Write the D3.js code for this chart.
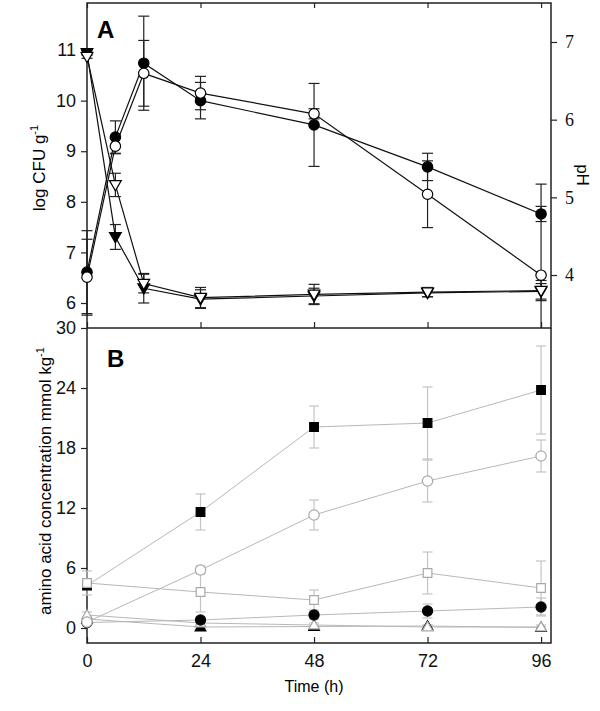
<!DOCTYPE html>
<html><head><meta charset="utf-8">
<script src="https://cdn.jsdelivr.net/npm/d3@7"></script>
<style>body{margin:0;background:#fff}svg{display:block}</style>
</head><body>
<svg id="c" width="600" height="711"></svg>
<script>
// ---------- DATA ----------
const timeA = [0, 6, 12, 24, 48, 72, 96];
const cfuFilled    = [6.61, 9.28, 10.74, 10.00, 9.52, 8.69, 7.76];
const cfuFilledErr = [0.82, 0.32, 0.93, 0.36, 0.82, 0.27, 0.15];
const cfuOpen      = [6.51, 9.10, 10.54, 10.15, 9.74, 8.15, 6.55];
const cfuOpenErr   = [0.75, 0.15, 0.65, 0.33, 0.10, 0.66, 1.80];
const pHFilled     = [6.86, 4.49, 3.83, 3.69, 3.73, 3.77, 3.79];
const pHFilledErr  = [0.02, 0.16, 0.19, 0.12, 0.10, 0.05, 0.10];
const pHOpen       = [6.81, 5.16, 3.89, 3.71, 3.75, 3.78, 3.80];
const pHOpenErr    = [0.02, 0.15, 0.12, 0.13, 0.13, 0.06, 0.13];

const timeB = [0, 24, 48, 72, 96];
const sqFilled      = [4.25, 11.6, 20.1, 20.5, 23.8];
const sqFilledErr   = [0.4, 1.8, 2.1, 3.6, 4.4];
const circOpenB     = [0.6, 5.8, 11.3, 14.7, 17.2];
const circOpenBErr  = [0.3, 0.4, 1.5, 2.1, 1.6];
const sqOpen        = [4.5, 3.6, 2.8, 5.5, 4.0];
const sqOpenErr     = [1.2, 2.0, 1.0, 2.1, 2.7];
const circFilledB   = [0.55, 0.8, 1.3, 1.7, 2.1];
const circFilledBErr= [0.3, 0.3, 0.4, 0.7, 0.9];
const triOpenB      = [1.3, 0.5, 0.3, 0.1, 0.1];
const triOpenBErr   = [0.3, 0.2, 0.2, 0.2, 0.2];
const triFilledB    = [0.9, 0.1, 0.15, 0.2, 0.05];
const triFilledBErr = [0.2, 0.1, 0.1, 0.1, 0.1];

const xTicks = [0, 24, 48, 72, 96];
const cfuTicks = [6, 7, 8, 9, 10, 11];
const pHTicks = [4, 5, 6, 7];
const aaTicks = [0, 6, 12, 18, 24, 30];

// ---------- LAYOUT ----------
const L = 87, R = 551, TA = 3, BA = 328, TB = 328, BB = 643;
const svg = d3.select("#c");
const sans = "'Liberation Sans', Arial, sans-serif";
const serif = "'Liberation Serif', 'Times New Roman', serif";

const x = d3.scaleLinear().domain([0, 98.1]).range([L, R]);
const yA = d3.scaleLinear().domain([5.506, 11.93]).range([BA, TA]);
const yPH = d3.scaleLinear().domain([3.318, 7.502]).range([BA, TA]);
const yB = d3.scaleLinear().domain([-1.5, 30]).range([BB, TB]);

const defs = svg.append("defs");
defs.append("clipPath").attr("id", "clipA").append("rect")
  .attr("x", L - 10).attr("y", TA).attr("width", R - L + 20).attr("height", BA - TA);
defs.append("clipPath").attr("id", "clipB").append("rect")
  .attr("x", L - 10).attr("y", TB).attr("width", R - L + 20).attr("height", BB - TB);

const axisCol = "#222";

// ---------- AXES ----------
function styleAxis(g, font, size) {
  g.select(".domain").remove();
  g.selectAll(".tick line").attr("stroke", axisCol).attr("stroke-width", 1.2);
  g.selectAll(".tick text").attr("font-family", font).attr("font-size", size).attr("fill", "#111");
}
svg.append("g").attr("transform", `translate(${L},0)`)
  .call(d3.axisLeft(yA).tickValues(cfuTicks).tickFormat(d3.format("d")).tickSize(6).tickPadding(5))
  .call(g => styleAxis(g, sans, 18));
svg.append("g").attr("transform", `translate(${R},0)`)
  .call(d3.axisRight(yPH).tickValues(pHTicks).tickFormat(d3.format("d")).tickSize(6).tickPadding(8))
  .call(g => styleAxis(g, serif, 18));
svg.append("g").attr("transform", `translate(0,${BA})`)
  .call(d3.axisTop(x).tickValues(xTicks).tickFormat("").tickSize(6))
  .call(g => styleAxis(g, sans, 0));
svg.append("g").attr("transform", `translate(0,${TA})`)
  .call(d3.axisBottom(x).tickValues(xTicks).tickFormat("").tickSize(5))
  .call(g => styleAxis(g, sans, 0));
svg.append("g").attr("transform", `translate(${L},0)`)
  .call(d3.axisLeft(yB).tickValues(aaTicks).tickFormat(d3.format("d")).tickSize(6).tickPadding(5))
  .call(g => styleAxis(g, sans, 18));
svg.append("g").attr("transform", `translate(0,${BB})`)
  .call(d3.axisTop(x).tickValues(xTicks).tickFormat("").tickSize(6))
  .call(g => styleAxis(g, sans, 0));
svg.append("g").attr("transform", `translate(0,${BB})`)
  .call(d3.axisBottom(x).tickValues(xTicks).tickFormat(d3.format("d")).tickSize(0).tickPadding(11))
  .call(g => styleAxis(g, sans, 18));

// Frames
svg.append("rect").attr("x", L).attr("y", TA).attr("width", R - L).attr("height", BA - TA)
  .attr("fill", "none").attr("stroke", axisCol).attr("stroke-width", 1.5);
svg.append("path").attr("d", `M${L},${TB}V${BB}H${R}V${TB}`)
  .attr("fill", "none").attr("stroke", axisCol).attr("stroke-width", 1.5);

// ---------- MARKERS ----------
const triDown = d3.symbol().type({draw(ctx, size){const s=Math.sqrt(size); ctx.moveTo(-s*0.62,-s*0.45); ctx.lineTo(s*0.62,-s*0.45); ctx.lineTo(0,s*0.62); ctx.closePath();}});
const triUp = d3.symbol().type({draw(ctx, size){const s=Math.sqrt(size); ctx.moveTo(-s*0.62,s*0.45); ctx.lineTo(s*0.62,s*0.45); ctx.lineTo(0,-s*0.62); ctx.closePath();}});
const sq = d3.symbol().type(d3.symbolSquare);
const circ = d3.symbol().type(d3.symbolCircle);

function series(g, xs, ys, errs, yScale, o) {
  const pts = xs.map((t, i) => ({t, v: ys[i], e: errs[i]}));
  const eb = g.append("g").attr("stroke", o.errCol).attr("stroke-width", o.errW || 1.2);
  pts.forEach(p => {
    const x0 = x(p.t), y1 = yScale(p.v + p.e), y2 = yScale(p.v - p.e);
    eb.append("line").attr("x1", x0).attr("x2", x0).attr("y1", y1).attr("y2", y2);
    eb.append("line").attr("x1", x0 - o.cap).attr("x2", x0 + o.cap).attr("y1", y1).attr("y2", y1);
    eb.append("line").attr("x1", x0 - o.cap).attr("x2", x0 + o.cap).attr("y1", y2).attr("y2", y2);
  });
  return pts;
}
function drawLine(g, pts, yScale, o) {
  g.append("path").datum(pts)
    .attr("d", d3.line().x(p => x(p.t)).y(p => yScale(p.v)))
    .attr("fill", "none").attr("stroke", o.lineCol).attr("stroke-width", o.lineW || 1);
}
function drawMarks(g, pts, yScale, o) {
  g.selectAll(null).data(pts).join("path")
    .attr("transform", p => `translate(${x(p.t)},${yScale(p.v)})`)
    .attr("d", o.sym.size(o.size)())
    .attr("fill", o.fill).attr("stroke", o.stroke).attr("stroke-width", o.sw || 1.2);
}

// ---------- PANEL A ----------
const gA = svg.append("g").attr("clip-path", "url(#clipA)");
const aOpt = {errCol: "#222", cap: 5.5, lineCol: "#111", lineW: 1.2};
const A = [
  {ys: pHFilled, es: pHFilledErr, sc: yPH, sym: triDown, size: 90, fill: "#000", stroke: "#000"},
  {ys: pHOpen, es: pHOpenErr, sc: yPH, sym: triDown, size: 90, fill: "#fff", stroke: "#000"},
  {ys: cfuFilled, es: cfuFilledErr, sc: yA, sym: circ, size: 85, fill: "#000", stroke: "#000"},
  {ys: cfuOpen, es: cfuOpenErr, sc: yA, sym: circ, size: 85, fill: "#fff", stroke: "#000"}
];
const ptsA = A.map(s => series(gA, timeA, s.ys, s.es, s.sc, aOpt));
A.forEach((s, i) => drawLine(gA, ptsA[i], s.sc, aOpt));
A.forEach((s, i) => drawMarks(gA, ptsA[i], s.sc, s));

// ---------- PANEL B ----------
const gB = svg.append("g").attr("clip-path", "url(#clipB)");
const bOpt = {errCol: "#c4c4c4", cap: 5, lineCol: "#b8b8b8", lineW: 1};
const gray = "#a9a9a9";
const B = [
  {ys: triFilledB, es: triFilledBErr, sym: triUp, size: 75, fill: "#000", stroke: "#000"},
  {ys: triOpenB, es: triOpenBErr, sym: triUp, size: 75, fill: "#fff", stroke: gray},
  {ys: circFilledB, es: circFilledBErr, sym: circ, size: 80, fill: "#000", stroke: "#000"},
  {ys: sqFilled, es: sqFilledErr, sym: sq, size: 75, fill: "#000", stroke: "#000"},
  {ys: sqOpen, es: sqOpenErr, sym: sq, size: 75, fill: "#fff", stroke: gray},
  {ys: circOpenB, es: circOpenBErr, sym: circ, size: 85, fill: "#fff", stroke: gray}
];
const ptsB = B.map(s => series(gB, timeB, s.ys, s.es, yB, bOpt));
B.forEach((s, i) => drawLine(gB, ptsB[i], yB, bOpt));
B.forEach((s, i) => drawMarks(gB, ptsB[i], yB, s));

// ---------- TEXT ----------
svg.append("text").attr("x", 97).attr("y", 38).text("A")
  .attr("font-family", sans).attr("font-weight", "bold").attr("font-size", 24);
svg.append("text").attr("x", 107).attr("y", 367).text("B")
  .attr("font-family", sans).attr("font-weight", "bold").attr("font-size", 24);

const t1 = svg.append("text").attr("transform", "translate(45,168) rotate(-90)")
  .attr("text-anchor", "middle").attr("font-family", sans).attr("font-size", 17);
t1.append("tspan").text("log CFU g");
t1.append("tspan").text("-1").attr("font-size", 11).attr("dy", -7);

const t2 = svg.append("text").attr("transform", "translate(51,481) rotate(-90)")
  .attr("text-anchor", "middle").attr("font-family", sans).attr("font-size", 17);
t2.append("tspan").text("amino acid concentration mmol kg");
t2.append("tspan").text("-1").attr("font-size", 11).attr("dy", -7);

svg.append("text").attr("transform", "translate(577,175) rotate(90)")
  .attr("text-anchor", "middle").attr("font-family", sans).attr("font-size", 17).text("pH");

svg.append("text").attr("x", 314).attr("y", 692).attr("text-anchor", "middle")
  .attr("font-family", sans).attr("font-size", 16).text("Time (h)");
</script>
</body></html>
